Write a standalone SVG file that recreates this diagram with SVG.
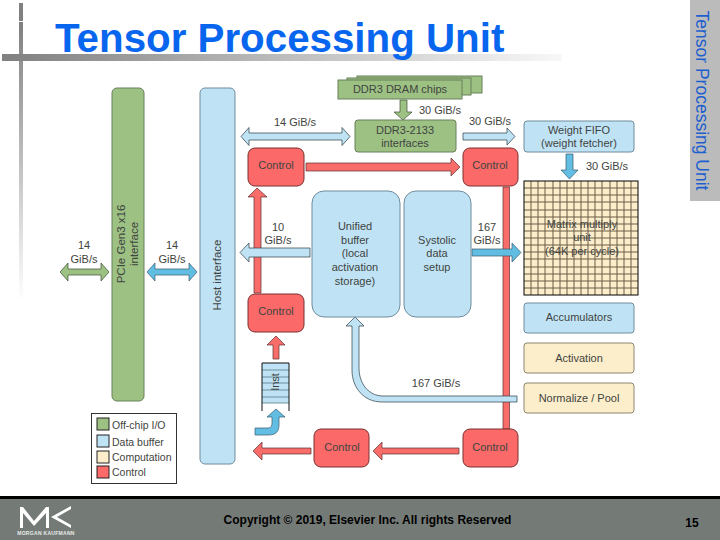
<svg xmlns="http://www.w3.org/2000/svg" width="720" height="540" viewBox="0 0 720 540">
<style>
text{font-family:"Liberation Sans",Arial,sans-serif;font-size:11px;fill:#3f4441;text-anchor:middle}
.g{fill:#9dc183;stroke:#66805a;stroke-width:1}
.b{fill:#bfe3f5;stroke:#6f8c9c;stroke-width:1}
.y{fill:#fdeecb;stroke:#8c8570;stroke-width:1}
.r{fill:#fb6a68;stroke:#7a3030;stroke-width:1}
.ar{fill:#f86c69;stroke:#5a3030;stroke-width:.7}
.ab{fill:#bfe3f5;stroke:#2b3a42;stroke-width:.7}
.ad{fill:#62bde3;stroke:#3b5a6a;stroke-width:.7}
.ag{fill:#9dc183;stroke:#3c4f34;stroke-width:.7}
.gl{stroke:#6b5c47;stroke-width:1;fill:none}
.l{text-anchor:start}
</style>
<defs>
<linearGradient id="hf" x1="0" x2="1" y1="0" y2="0"><stop offset="0" stop-color="#808080"/><stop offset="1" stop-color="#f8f8f8"/></linearGradient>
<linearGradient id="vf" x1="0" x2="0" y1="0" y2="1"><stop offset="0" stop-color="#808080"/><stop offset="1" stop-color="#ffffff"/></linearGradient>
</defs>
<rect width="720" height="540" fill="#fff"/>
<g id="chrome">
<rect x="19" y="3" width="4" height="18" fill="#808080"/>
<rect x="19" y="22" width="4" height="280" fill="url(#vf)"/>
<rect x="2" y="54" width="560" height="7" fill="url(#hf)"/>
<rect x="0" y="496" width="720" height="3" fill="#000"/>
<rect x="0" y="499" width="720" height="41" fill="#747b77"/>
<rect x="690" y="0" width="30" height="201" fill="#bbbbbb"/>
<path d="M20 528V507h3l11 14 12-14h3v21h-3V513l-12 13-11-13v15z" fill="#fff"/>
<path d="M71 506l-20 11 20 11v-3l-14-8 14-8z" fill="#fff"/>
<text x="46" y="535" style="font-size:5px;font-weight:bold;fill:#e8eae8;letter-spacing:.3px">MORGAN KAUFMANN</text>
</g>
<text x="55" y="52" style="font-size:40.300px;font-weight:bold;fill:#0866ee;text-anchor:start">Tensor Processing Unit</text>
<text transform="translate(696 100.500) rotate(90)" style="font-size:17.500px;fill:#1d5fd0">Tensor Processing Unit</text>
<text x="367.500" y="524" style="font-size:12px;font-weight:bold;fill:#000">Copyright © 2019, Elsevier Inc. All rights Reserved</text>
<text x="692" y="527" style="font-size:12px;font-weight:bold;fill:#000">15</text>
<g id="connectors">
<path class="ar" d="M503 187h6.500v242H503z"/>
<path class="ar" d="M306 163h145v-5l9 9-9 9v-5H306z"/>
<path class="ar" d="M254 293V197h-6l9-9 10 9h-6v96z"/>
<path class="ab" d="M241 136.500l8-9v5.500h93v-5.500l8 9-8 9V140h-93v5.500z"/>
<path class="ag" d="M400 100h7v12h5l-9 8-9-8h6z"/>
<path class="ab" d="M463 133h44v-5l8 8.500-8 8.500v-5h-44z"/>
<path class="ad" d="M566 154h7v16h5l-8.500 9-8.500-9h5z"/>
<path class="ad" d="M472 249h40v-6l9 9.500-9 9.500v-6h-40z"/>
<path class="ag" d="M60 272l8-9v6h33v-6l8 9-8 9v-6H68v6z"/>
<path class="ad" d="M147 272l8-9v6h34v-6l8 9-8 9v-6h-34v6z"/>
<path class="ab" d="M240 252.500l9-9.500v5h61v9h-61v5z"/>
<path class="ab" d="M355 317l9 9h-5v42c0 16 10 28 24 28h134v6H382c-18 0-30-14-30-32v-44h-6z"/>
<path class="ar" d="M273 359v-14h-6l9-9 9 9h-6v14z"/>
<path class="ad" d="M255 428h13c3 0 4-2 4-5v-6h-5l9-8 9 8h-6v8c0 7-4 10-10 10h-14z"/>
<path class="ar" d="M459 448v6h-77v6l-9-9 9-9v6z"/>
<path class="ar" d="M311 448v6h-49v6l-9-9 9-9v6z"/>
</g>
<g id="pcie"><rect class="g" x="112" y="88" width="32" height="313" rx="5"/>
<text transform="translate(125 244) rotate(-90)" style="font-size:11.500px">PCIe Gen3 x16</text><text transform="translate(138 244) rotate(-90)" style="font-size:11.500px">interface</text></g>
<g id="host"><rect class="b" x="200" y="88" width="35" height="376" rx="5"/>
<text transform="translate(221 275) rotate(-90)" style="font-size:11.500px">Host interface</text></g>
<g id="dram">
<rect class="g" x="357" y="76" width="125" height="17"/><rect class="g" x="347" y="78" width="124" height="17"/><rect class="g" x="338" y="80" width="124" height="19"/>
<text x="400" y="93">DDR3 DRAM chips</text></g>
<g id="ddr"><rect class="g" x="355" y="120" width="101" height="32" rx="3"/><text x="405" y="134">DDR3-2133</text><text x="405" y="147">interfaces</text></g>
<g id="fifo"><rect class="b" x="524" y="121" width="110" height="31" rx="3"/><text x="579" y="134">Weight FIFO</text><text x="579" y="147">(weight fetcher)</text></g>
<g id="control1"><rect class="r" x="248" y="148" width="56" height="38" rx="7"/><text x="276" y="169">Control</text></g>
<g id="control2"><rect class="r" x="463" y="148" width="55" height="38" rx="7"/><text x="490" y="169">Control</text></g>
<g id="control3"><rect class="r" x="248" y="294" width="56" height="38" rx="7"/><text x="276" y="315">Control</text></g>
<g id="control4"><rect class="r" x="314" y="429" width="55" height="38" rx="7"/><text x="342" y="451">Control</text></g>
<g id="control5"><rect class="r" x="463" y="429" width="55" height="38" rx="7"/><text x="490" y="451">Control</text></g>
<g id="buffer"><rect class="b" x="312" y="191" width="88" height="126" rx="12"/>
<text x="355" y="230">Unified</text><text x="355" y="244">buffer</text><text x="355" y="257">(local</text><text x="355" y="271">activation</text><text x="355" y="285">storage)</text></g>
<g id="systolic"><rect class="b" x="404" y="191" width="67" height="126" rx="12"/>
<text x="437" y="244">Systolic</text><text x="437" y="257">data</text><text x="437" y="271">setup</text></g>
<g id="matrix"><rect x="524" y="181" width="114" height="114" fill="#fdeecb"/>
<path class="gl" d="M524 188h114M524 195h114M524 202h114M524 210h114M524 217h114M524 224h114M524 231h114M524 238h114M524 245h114M524 252h114M524 259h114M524 267h114M524 274h114M524 281h114M524 288h114M531 181v114M538 181v114M545 181v114M553 181v114M560 181v114M567 181v114M574 181v114M581 181v114M588 181v114M595 181v114M602 181v114M610 181v114M617 181v114M624 181v114M631 181v114"/>
<rect x="524" y="181" width="114" height="114" fill="none" stroke="#000"/>
<text x="582" y="228">Matrix multiply</text><text x="582" y="241">unit</text><text x="582" y="255">(64K per cycle)</text></g>
<g id="accumulators"><rect class="b" x="524" y="303" width="110" height="30" rx="3"/><text x="579" y="321">Accumulators</text></g>
<g id="activation"><rect class="y" x="524" y="343" width="110" height="30" rx="3"/><text x="579" y="362">Activation</text></g>
<g id="normalize"><rect class="y" x="524" y="383" width="110" height="30" rx="3"/><text x="579" y="402">Normalize / Pool</text></g>
<g id="inst"><rect x="262" y="363" width="27" height="40" fill="#bfe3f5"/>
<path d="M262 370h27M262 377h27M262 383h27M262 390h27M262 397h27M262 403h27" stroke="#5a7b8c" stroke-width=".8" fill="none"/>
<path d="M262 363h27M262 363v48M289 363v48" stroke="#111" fill="none"/>
<text transform="translate(279 382) rotate(-90)">Inst</text></g>
<g id="legend"><rect x="91.500" y="413.500" width="85" height="70" fill="#fff" stroke="#333"/>
<rect x="97" y="418" width="12" height="12" fill="#9dc183" stroke="#222"/><rect x="97" y="435" width="12" height="12" fill="#bfe3f5" stroke="#222"/><rect x="97" y="451" width="12" height="12" fill="#fdeecb" stroke="#222"/><rect x="97" y="466" width="12" height="12" fill="#fb6a68" stroke="#222"/>
<text x="112" y="429" class="l" style="font-size:10.500px">Off-chip I/O</text><text x="112" y="446" class="l" style="font-size:10.500px">Data buffer</text><text x="112" y="461" class="l" style="font-size:10.500px">Computation</text><text x="112" y="476" class="l" style="font-size:10.500px">Control</text></g>
<g id="labels">
<text x="295" y="126">14 GiB/s</text><text x="440" y="114">30 GiB/s</text><text x="490" y="125">30 GiB/s</text><text x="607" y="170">30 GiB/s</text>
<text x="487" y="231">167</text><text x="487" y="244">GiB/s</text>
<text x="278" y="231">10</text><text x="278" y="244">GiB/s</text>
<text x="84" y="249">14</text><text x="84" y="263">GiB/s</text>
<text x="172" y="249">14</text><text x="172" y="263">GiB/s</text>
<text x="436" y="387">167 GiB/s</text>
</g>
</svg>
